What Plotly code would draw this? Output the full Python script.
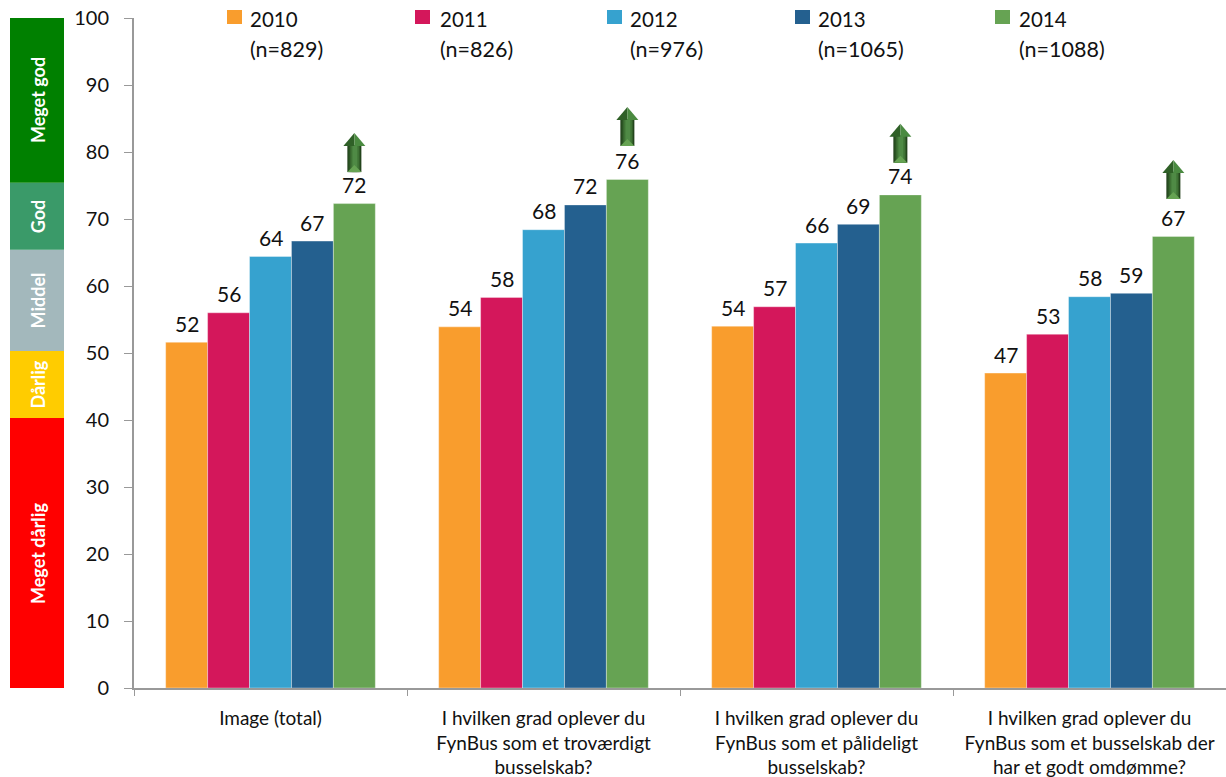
import plotly.graph_objects as go

# Survey data
categories = [
    "Image (total)",
    "I hvilken grad oplever du<br>FynBus som et troværdigt<br>busselskab?",
    "I hvilken grad oplever du<br>FynBus som et pålideligt<br>busselskab?",
    "I hvilken grad oplever du<br>FynBus som et busselskab der<br>har et godt omdømme?",
]
years = ["2010", "2011", "2012", "2013", "2014"]
sample_sizes = ["(n=829)", "(n=826)", "(n=976)", "(n=1065)", "(n=1088)"]
values_2010 = [51.6, 53.9, 54.0, 47.0]
values_2011 = [56.0, 58.3, 56.9, 52.8]
values_2012 = [64.4, 68.4, 66.4, 58.4]
values_2013 = [66.7, 72.1, 69.2, 58.9]
values_2014 = [72.3, 75.9, 73.6, 67.4]
series_values = [values_2010, values_2011, values_2012, values_2013, values_2014]
series_colors = ["#F99D2D", "#D4175B", "#36A2CF", "#24608F", "#66A353"]

# Foot of the upward arrow drawn above each 2014 bar, on the value scale
arrow_base = [77.0, 80.9, 78.4, 73.0]

# Rating scale shown to the left of the value axis
band_labels = ["Meget dårlig", "Dårlig", "Middel", "God", "Meget god"]
band_low = [0, 40.3, 50.3, 65.4, 75.4]
band_high = [40.3, 50.3, 65.4, 75.4, 100.1]
band_colors = ["#FF0000", "#FFCC00", "#A3B8BC", "#3A9A69", "#008000"]

W, H = 1226, 777
L, R, T, B = 134, 0, 18, 89
BARGAP = 0.232
plot_w = W - L - R
bar_w = (1 - BARGAP) / len(years)


def px_x(px):
    return (px - L) / plot_w


def px_y(px):
    return 1 - (px - T) / (H - T - B)


FONT = "Lato"
TEXT = "#111111"
fig = go.Figure()

for name, vals, col in zip(years, series_values, series_colors):
    fig.add_bar(
        name=name, x=categories, y=vals,
        marker=dict(color=col, line=dict(color="rgba(255,255,255,0.35)", width=1)),
        showlegend=False,
    )

shapes, annotations = [], []

# Value labels sit a little higher than the default outside position
for k, vals in enumerate(series_values):
    for i, v in enumerate(vals):
        annotations.append(dict(xref="x", yref="y", x=i + (k - 2) * bar_w, y=v, text=f"{round(v)}",
                                xanchor="center", yanchor="middle", yshift=19, showarrow=False,
                                font=dict(family=FONT, size=21, color=TEXT)))

# Rating bands
for label, lo, hi, col in zip(band_labels, band_low, band_high, band_colors):
    shapes.append(dict(type="rect", xref="paper", yref="y", x0=px_x(10), x1=px_x(64),
                       y0=lo, y1=hi, fillcolor=col, line_width=0, layer="below"))
    annotations.append(dict(xref="paper", yref="y", x=px_x(38), y=(lo + hi) / 2, text=f"<b>{label}</b>",
                            textangle=-90, showarrow=False, xanchor="center", yanchor="middle",
                            font=dict(family=FONT, size=18, color="white")))

# Legend built by hand because the entries are unevenly spaced
legend_x = [227, 415, 607, 795, 995]
legend_text_x = [248, 438, 628, 816, 1017]
for yr, n, col, lx, tx in zip(years, sample_sizes, series_colors, legend_x, legend_text_x):
    shapes.append(dict(type="rect", xref="paper", yref="paper", x0=px_x(lx), x1=px_x(lx + 15),
                       y0=px_y(24), y1=px_y(10), fillcolor=col, line_width=0))
    annotations.append(dict(xref="paper", yref="paper", x=px_x(tx), y=px_y(19), text=yr,
                            xanchor="left", yanchor="middle", showarrow=False,
                            font=dict(family=FONT, size=20.5, color=TEXT)))
    annotations.append(dict(xref="paper", yref="paper", x=px_x(tx), y=px_y(49), text=n,
                            xanchor="left", yanchor="middle", showarrow=False,
                            font=dict(family=FONT, size=21.5, color=TEXT)))

# Upward arrows: nested strips, outermost first, give the shaft its shading
shaft_half_widths = [(-7, 7, "#1F3D18"), (-6, 6, "#2C5524"), (-4, 5, "#3F7335"), (-2, 3, "#4F8A45")]
for i, base in enumerate(arrow_base):
    anchor = dict(xref="x", yref="y", xsizemode="pixel", ysizemode="pixel",
                  xanchor=i + 2 * bar_w, yanchor=base, line_width=0)
    for e0, e1, c in shaft_half_widths:
        shapes.append(dict(type="path", path=f"M {e0},0 L {e1},0 L {e1},27 L {e0},27 Z",
                           fillcolor=c, **anchor))
    shapes.append(dict(type="path", path="M -11,26 L 0,39 L 0,26 Z", fillcolor="#2F6027", **anchor))
    shapes.append(dict(type="path", path="M 0,26 L 0,39 L 11,26 Z", fillcolor="#4A8A40", **anchor))
    shapes.append(dict(type="path", path="M -7,0 L 0,7 L 7,0 Z", fillcolor="#66A353", **anchor))

axis_line = "#999999"
fig.update_layout(
    width=W, height=H, autosize=False,
    margin=dict(l=L, r=R, t=T, b=B, pad=0),
    paper_bgcolor="white", plot_bgcolor="white",
    barmode="group", bargap=BARGAP, bargroupgap=0,
    shapes=shapes, annotations=annotations,
    font=dict(family=FONT, color=TEXT),
    xaxis=dict(type="category", categoryorder="array", categoryarray=categories, tickson="boundaries",
               ticks="outside", ticklen=6, tickcolor=axis_line, linecolor=axis_line, linewidth=2,
               showgrid=False, tickangle=0, tickfont=dict(family=FONT, size=19, color=TEXT),
               ticklabelstandoff=12),
    yaxis=dict(range=[0, 100], tick0=0, dtick=10, ticks="outside", ticklen=8, tickcolor=axis_line,
               linecolor=axis_line, linewidth=2, showgrid=False, zeroline=False,
               tickfont=dict(family=FONT, size=20, color=TEXT), ticklabelstandoff=11),
)

fig.write_html("out.html")
